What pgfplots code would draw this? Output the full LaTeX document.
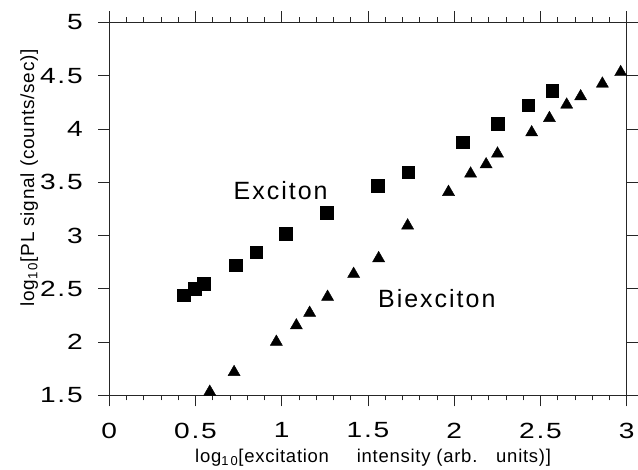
\documentclass[border=0pt]{standalone}
\usepackage{fontspec}
\setmainfont{Liberation Sans}
\newfontfamily\tickfont[LetterSpace=8,FakeStretch=1.28]{Liberation Sans}
\newfontfamily\annfont[LetterSpace=8]{Liberation Sans}
\newfontfamily\labfont[LetterSpace=4]{Liberation Sans}
\usepackage{pgfplots}
\pgfplotsset{compat=1.18}

% exciton (squares)
\pgfplotstableread{
x y
0.432 2.438
0.496 2.498
0.548 2.545
0.734 2.719
0.853 2.841
1.023 3.016
1.262 3.216
1.556 3.469
1.734 3.594
2.048 3.875
2.251 4.047
2.430 4.222
2.567 4.356
}\exciton

% biexciton (triangles)
\pgfplotstableread{
x y
0.583 1.532
0.724 1.717
0.969 2.001
1.085 2.155
1.162 2.273
1.266 2.423
1.417 2.638
1.562 2.785
1.730 3.092
1.967 3.407
2.095 3.579
2.185 3.666
2.251 3.767
2.449 3.966
2.552 4.100
2.652 4.226
2.733 4.304
2.859 4.423
2.965 4.531
}\biexciton

\begin{document}
\begin{tikzpicture}
\begin{axis}[
  scale only axis,
  width=518pt, height=373.4pt,
  xmin=0, xmax=3, ymin=1.5, ymax=5,
  xtick={0,0.5,...,3},
  ytick={1.5,2,...,5},
  minor x tick num=4,
  tick align=outside,
  major tick length=11pt,
  minor tick length=5pt,
  axis line style={line width=0.6pt, black!85},
  every tick/.style={line width=0.6pt, black!85},
  /pgf/number format/assume math mode=true,
  ticklabel style={font=\tickfont\fontsize{22}{26}\selectfont},
  yticklabel style={xshift=-12pt},
  xticklabel style={yshift=-13pt},
  clip=false,
]
\addplot[only marks, mark=square*, mark size=6.3pt, black] table {\exciton};
\addplot[only marks, mark=triangle*, mark size=7pt, black] table {\biexciton};
\node[font=\annfont\fontsize{25}{30}\selectfont] at (axis cs:0.994,3.419) {Exciton};
\node[font=\annfont\fontsize{25}{30}\selectfont] at (axis cs:1.899,2.409) {Biexciton};
% axis titles
\node[font=\labfont\fontsize{18.5}{22}\selectfont, anchor=base]
  at (axis cs:1.53,0.867) {log\textsubscript{1\,0}[excitation\hspace{22pt} intensity (arb.\hspace{11pt} units)]};
\node[font=\labfont\fontsize{19}{22}\selectfont, anchor=base, rotate=90]
  at (axis cs:-0.435,3.54) {log\textsubscript{1\,0}[PL signal (counts/sec)]};
\path (rel axis cs:-0.211,-0.199) rectangle (rel axis cs:1.0207,1.0597);
\end{axis}
\end{tikzpicture}
\end{document}
